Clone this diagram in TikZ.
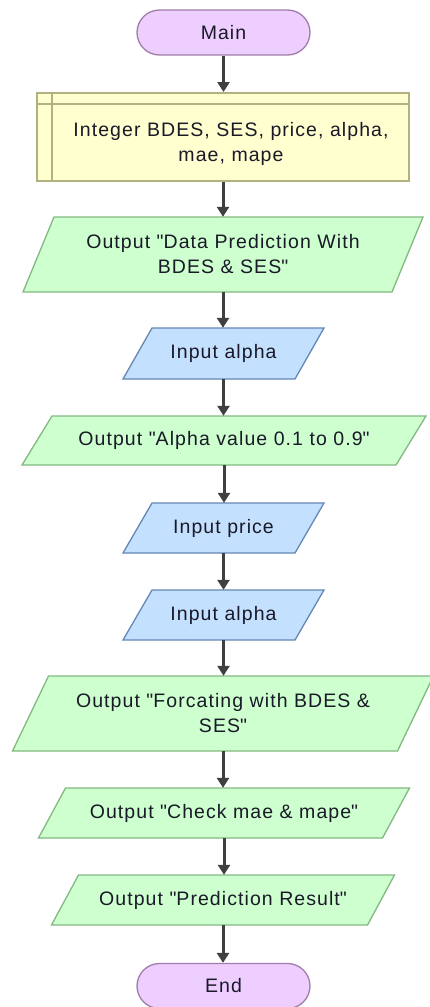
\documentclass[tikz,border=0pt]{standalone}
\usepackage{fontspec}
\setmainfont[LetterSpace=5.5]{Liberation Sans}
\usetikzlibrary{arrows.meta,calc}
\definecolor{termfill}{RGB}{238,206,255}
\definecolor{termline}{RGB}{160,125,170}
\definecolor{declfill}{RGB}{255,255,208}
\definecolor{declline}{RGB}{178,178,128}
\definecolor{outfill}{RGB}{206,255,206}
\definecolor{outline}{RGB}{130,185,130}
\definecolor{infill}{RGB}{196,224,255}
\definecolor{inline}{RGB}{100,135,180}
\definecolor{arrcol}{RGB}{64,64,64}
\definecolor{txtcol}{RGB}{25,25,40}
\newcommand\dq{\textquotedbl}
\tikzset{
  txt/.style={inner sep=0pt, align=center, text=txtcol, font=\fontsize{19.5}{25}\selectfont},
  term/.style={txt, draw=termline, fill=termfill, line width=1.3pt},
  outshape/.style={draw=outline, fill=outfill, line width=1.3pt, line join=miter},
  inshape/.style={draw=inline, fill=infill, line width=1.3pt, line join=miter},
  declshape/.style={draw=declline, fill=declfill, line width=2pt},
  arr/.style={draw=arrcol, line width=3pt, -{Triangle[length=10pt,width=12pt]}}
}
% #1 name, #2 style, #3 cx, #4 cy, #5 w, #6 h, #7 skew, #8 text
\newcommand\iobox[8]{%
  \path[#2] ({#3-#5/2+#7/2},{#4-#6/2}) -- ({#3+#5/2+#7/2},{#4-#6/2})
     -- ({#3+#5/2-#7/2},{#4+#6/2}) -- ({#3-#5/2-#7/2},{#4+#6/2}) -- cycle;
  \node[txt, minimum width=#5, minimum height=#6] (#1) at (#3,#4) {#8};
}
\begin{document}
\begin{tikzpicture}[x=1pt,y=-1pt]
\useasboundingbox (0,0) rectangle (429,1007);
\node[term, minimum width=173, minimum height=45, rounded corners=22.5pt] (main) at (223.5,32.5) {Main};
\node[declshape, minimum width=372, minimum height=88, inner sep=0pt] (decl) at (223,137) {};
\draw[declline, line width=2pt] ($(decl.north west)+(0,12)$) -- ($(decl.north east)+(0,12)$);
\draw[declline, line width=2pt] ($(decl.north west)+(16,0)$) -- ($(decl.south west)+(16,0)$);
\node[txt] (decltxt) at (231,144) {Integer BDES, SES, price, alpha,\\mae, mape};
\iobox{out1}{outshape}{223}{254.5}{369}{75}{31}{Output \dq Data Prediction With\\BDES \& SES\dq}
\iobox{in1}{inshape}{223.5}{353.5}{172}{51}{29}{Input alpha}
\iobox{out2}{outshape}{224}{440.5}{374}{49}{30}{Output \dq Alpha value 0.1 to 0.9\dq}
\iobox{in2}{inshape}{223.5}{528}{172}{50}{29}{Input price}
\iobox{in3}{inshape}{223.5}{615}{172}{50}{29}{Input alpha}
\iobox{out3}{outshape}{223}{713.5}{385}{75}{36}{Output \dq Forcating with BDES \&\\SES\dq}
\iobox{out4}{outshape}{224}{813}{344}{50}{27}{Output \dq Check mae \& mape\dq}
\iobox{out5}{outshape}{223}{900}{316}{50}{27}{Output \dq Prediction Result\dq}
\node[term, minimum width=173, minimum height=45, rounded corners=22.5pt] (end) at (223.5,986) {End};
\draw[arr] (main.south) -- (main.south |- decl.north);
\draw[arr] (decl.south) -- (decl.south |- out1.north);
\draw[arr] (out1.south) -- (out1.south |- in1.north);
\draw[arr] (in1.south) -- (in1.south |- out2.north);
\draw[arr] (out2.south) -- (out2.south |- in2.north);
\draw[arr] (in2.south) -- (in2.south |- in3.north);
\draw[arr] (in3.south) -- (in3.south |- out3.north);
\draw[arr] (out3.south) -- (out3.south |- out4.north);
\draw[arr] (out4.south) -- (out4.south |- out5.north);
\draw[arr] (out5.south) -- (out5.south |- end.north);
\end{tikzpicture}
\end{document}
